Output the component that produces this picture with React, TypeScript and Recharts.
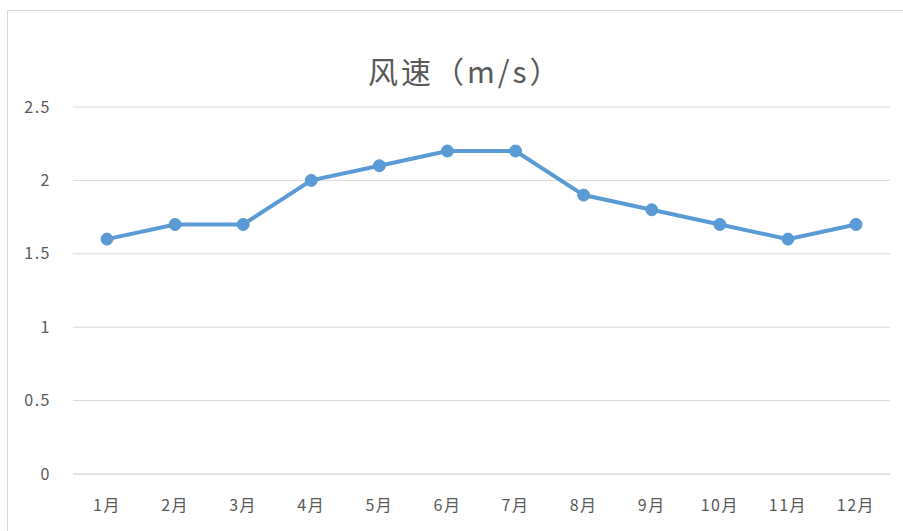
import { LineChart, Line, XAxis, YAxis, CartesianGrid } from "recharts";

const months = ["1月", "2月", "3月", "4月", "5月", "6月", "7月", "8月", "9月", "10月", "11月", "12月"];
const windSpeed = [1.6, 1.7, 1.7, 2.0, 2.1, 2.2, 2.2, 1.9, 1.8, 1.7, 1.6, 1.7];
const yTicks = [0, 0.5, 1, 1.5, 2, 2.5];

const data = months.map((m, i) => ({ month: m, speed: windSpeed[i] }));

const FONT = "'Noto Sans CJK SC', 'Noto Sans', sans-serif";
const tickStyle = { fontSize: 16, fill: "#595959", fontFamily: FONT, letterSpacing: 1.5 };

export default function App() {
  return (
    <div style={{ position: "absolute", left: 0, top: 0, width: 903, height: 531, background: "#fff", overflow: "hidden", fontFamily: FONT }}>
      {/* chart border */}
      <div style={{ position: "absolute", left: 7, top: 10, width: 920, height: 540, border: "1px solid #d9d9d9" }} />
      <div
        style={{
          position: "absolute",
          left: 368,
          top: 50,
          whiteSpace: "nowrap",
          fontSize: 30,
          letterSpacing: 3,
          color: "#595959",
          lineHeight: "40px",
        }}
      >
        风速（m/s）
      </div>
      <LineChart width={903} height={531} data={data} margin={{ top: 107, right: 13, left: 13, bottom: 25 }}>
        <CartesianGrid vertical={false} stroke="#d9d9d9" strokeWidth={1} />
        <XAxis
          dataKey="month"
          axisLine={{ stroke: "#d9d9d9" }}
          tickLine={false}
          tickMargin={20}
          height={32}
          padding={{ left: 34, right: 34 }}
          tick={tickStyle}
          interval={0}
        />
        <YAxis
          domain={[0, 2.5]}
          ticks={yTicks}
          axisLine={false}
          tickLine={false}
          width={60}
          tickMargin={16}
          tick={tickStyle}
        />
        <Line
          type="linear"
          dataKey="speed"
          stroke="#5b9bd5"
          strokeWidth={4}
          dot={{ r: 6, fill: "#5b9bd5", stroke: "#5b9bd5", strokeWidth: 1 }}
          isAnimationActive={false}
        />
      </LineChart>
    </div>
  );
}
